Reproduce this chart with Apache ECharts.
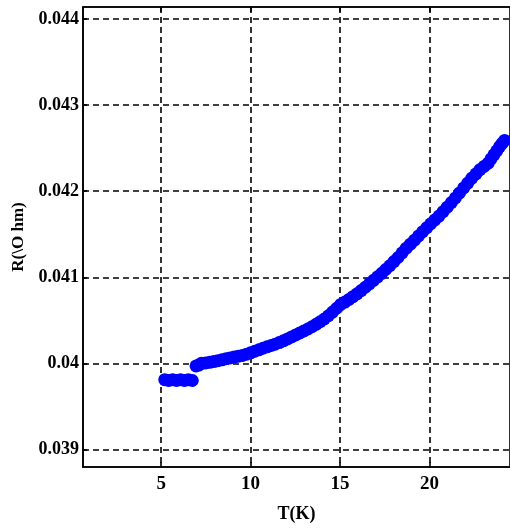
<!DOCTYPE html>
<html>
<head>
<meta charset="utf-8">
<script src="https://cdn.jsdelivr.net/npm/echarts@6/dist/echarts.min.js"></script>
<style>
  html, body { margin: 0; padding: 0; background: #fff; }
  #chart { width: 510px; height: 532px; }
</style>
</head>
<body>
<div id="chart"></div>
<script>
// Temperature sweep, low-temperature plateau below the step
const lowT = [5.2, 5.42, 5.64, 5.86, 6.08, 6.3, 6.52, 6.74];
const lowR = [0.03981, 0.03980, 0.03981, 0.03980, 0.03981, 0.03980, 0.03981, 0.03980];

// Temperature sweep above the step
const highT = [6.95, 7.1, 7.25, 7.48, 7.71, 7.94, 8.17, 8.4, 8.63, 8.85, 9.08, 9.31, 9.54, 9.77,
  10.0, 10.23, 10.46, 10.69, 10.92, 11.15, 11.37, 11.6, 11.83, 12.06, 12.29, 12.52,
  12.75, 12.98, 13.2, 13.43, 13.66, 13.89, 14.12, 14.35, 14.58, 14.81, 15.04, 15.27,
  15.5, 15.72, 15.95, 16.18, 16.41, 16.64, 16.87, 17.1, 17.33, 17.55, 17.78, 18.01,
  18.24, 18.47, 18.7, 18.93, 19.16, 19.39, 19.62, 19.85, 20.07, 20.3, 20.53, 20.76,
  20.99, 21.22, 21.45, 21.68, 21.91, 22.14, 22.37, 22.6, 22.82, 23.05, 23.28, 23.44,
  23.6, 23.76, 23.92, 24.06, 24.2];
const highR = [0.03997, 0.03998, 0.04000, 0.040005, 0.040012, 0.04002, 0.040030, 0.04004,
  0.040053, 0.040063, 0.040073, 0.040082, 0.040092, 0.040106, 0.040122, 0.04014,
  0.040157, 0.040175, 0.040192, 0.040207, 0.040223, 0.040241, 0.040261, 0.040283,
  0.040307, 0.04033, 0.040353, 0.040376, 0.040399, 0.040425, 0.040453, 0.040483,
  0.040515, 0.040553, 0.040595, 0.04064, 0.040684, 0.040712, 0.040742, 0.040775,
  0.040808, 0.040845, 0.040884, 0.040924, 0.040965, 0.041005, 0.041046, 0.04109,
  0.041134, 0.041182, 0.041230, 0.041284, 0.041338, 0.041385, 0.041431, 0.04148,
  0.041530, 0.041576, 0.041622, 0.041666, 0.041711, 0.041762, 0.041815, 0.041868,
  0.041922, 0.04198, 0.042038, 0.042095, 0.042153, 0.042202, 0.042250, 0.042288,
  0.042326, 0.042375, 0.042423, 0.04247, 0.042519, 0.042555, 0.04259];

// Axis ticks and their labels
const xTicks = [5, 10, 15, 20];
const yTicks = [0.039, 0.04, 0.041, 0.042, 0.043, 0.044];
const yTickLabels = ['0.039', '0.04', '0.041', '0.042', '0.043', '0.044'];

const xMin = 0.63, xMax = 24.5;
const yMin = 0.038795, yMax = 0.044141;

const FONT = 'Liberation Serif';
const ink = '#000';

const pairs = (xs, ys) => xs.map((x, i) => [x, ys[i]]);

const gridLine = { show: true, lineStyle: { color: '#000', type: [6, 4], width: 1.6 } };
const marker = { color: '#0000ff', opacity: 1 };

const chart = echarts.init(document.getElementById('chart'), null, { renderer: 'canvas' });
chart.setOption({
  animation: false,
  backgroundColor: '#fff',
  grid: { left: 83, top: 7, right: -10, bottom: 65, show: true, borderColor: ink, borderWidth: 1.6, backgroundColor: 'transparent' },
  xAxis: [{
    type: 'value', min: xMin, max: xMax, position: 'bottom',
    name: 'T(K)', nameLocation: 'middle', nameGap: 38,
    nameTextStyle: { fontFamily: FONT, fontWeight: 'bold', fontSize: 18, color: ink },
    axisLine: { show: true, onZero: false, lineStyle: { color: ink, width: 1.6 } },
    axisTick: { show: true, inside: true, length: 5, customValues: xTicks, lineStyle: { color: ink, width: 1.6 } },
    axisLabel: { customValues: xTicks, margin: 8, fontFamily: FONT, fontWeight: 'bold', fontSize: 19, color: ink },
    splitLine: gridLine
  }, {
    type: 'value', min: xMin, max: xMax, position: 'top',
    axisLine: { show: true, onZero: false, lineStyle: { color: ink, width: 1.6 } },
    axisTick: { show: true, inside: true, length: 5, customValues: xTicks, lineStyle: { color: ink, width: 1.6 } },
    axisLabel: { show: false },
    splitLine: { show: false }
  }],
  yAxis: [{
    type: 'value', min: yMin, max: yMax, position: 'left',
    name: 'R(\\O hm)', nameLocation: 'middle', nameGap: 54, nameRotate: 90,
    nameTextStyle: { fontFamily: FONT, fontWeight: 'bold', fontSize: 17, color: ink },
    axisLine: { show: true, onZero: false, lineStyle: { color: ink, width: 1.6 } },
    axisTick: { show: true, inside: true, length: 4, customValues: yTicks, lineStyle: { color: ink, width: 1.6 } },
    axisLabel: {
      customValues: yTicks, margin: 4, fontFamily: FONT, fontWeight: 'bold', fontSize: 18, color: ink,
      formatter: v => {
        const i = yTicks.findIndex(t => Math.abs(t - v) < 1e-9);
        return i >= 0 ? yTickLabels[i] : '';
      }
    },
    splitLine: gridLine
  }],
  series: [{
    type: 'scatter', data: pairs(lowT, lowR), symbol: 'circle', symbolSize: 13,
    itemStyle: marker, silent: true
  }, {
    type: 'scatter', data: pairs(highT, highR), symbol: 'circle', symbolSize: 13,
    itemStyle: marker, silent: true
  }]
});
</script>
</body>
</html>
